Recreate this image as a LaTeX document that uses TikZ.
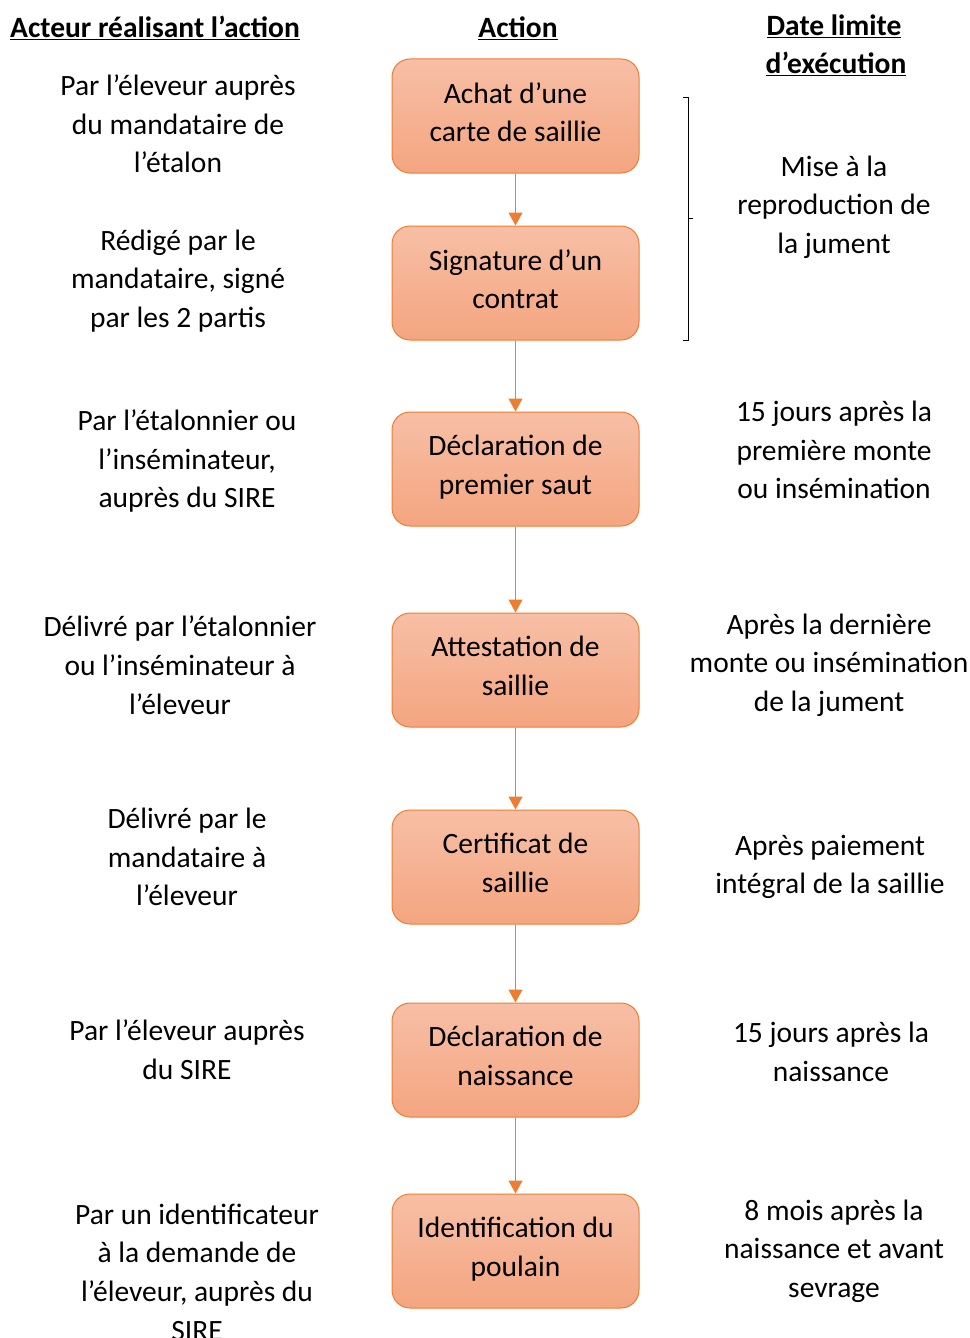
\documentclass[tikz,border=0pt]{standalone}
\usepackage{fontspec}
\setmainfont{Carlito}
\usetikzlibrary{arrows.meta}
\definecolor{boxtop}{RGB}{247,191,166}
\definecolor{boxbot}{RGB}{244,165,128}
\definecolor{boxline}{RGB}{237,125,49}
\tikzset{
  actbox/.style={draw=boxline, line width=1pt, rounded corners=18pt, top color=boxtop, bottom color=boxbot,
    minimum width=247pt, minimum height=114pt, align=center, inner sep=0pt, font=\fontsize{29.5}{38.7}\selectfont,
    execute at end node={\rule[-8pt]{0pt}{8pt}}},
  txt/.style={align=center, inner sep=0pt, font=\fontsize{29.5}{38.7}\selectfont},
  hdr/.style={align=center, inner sep=0pt, font=\fontsize{29.5}{38.7}\selectfont\bfseries},
  flow/.style={draw=boxline, line width=1.2pt, -{Triangle[width=14pt,length=13pt]}},
  brace/.style={draw=black, line width=0.8pt}
}
\begin{document}
\begin{tikzpicture}[x=1pt,y=-1pt]
\useasboundingbox (0,0) rectangle (969,1338);
% headers
\node[hdr] (h1) at (155,28) {\underline{Acteur réalisant l’action}};
\node[hdr] (h2) at (518,28) {\underline{Action}};
\node[hdr] (h3a) at (834,26) {\underline{Date limite}};
\node[hdr] (h3b) at (836,64) {\underline{d’exécution}};
% action boxes
\node[actbox] (b1) at (515.5,116) {Achat d’une\\carte de saillie};
\node[actbox] (b2) at (515.5,283) {Signature d’un\\contrat};
\node[actbox] (b3) at (515.5,469) {Déclaration de\\premier saut};
\node[actbox] (b4) at (515.5,670) {Attestation de\\saillie};
\node[actbox] (b5) at (515.5,867) {Certificat de\\saillie};
\node[actbox] (b6) at (515.5,1060) {Déclaration de\\naissance};
\node[actbox] (b7) at (515.5,1251) {Identification du\\poulain};
\draw[flow] (b1) -- (b2);
\draw[flow] (b2) -- (b3);
\draw[flow] (b3) -- (b4);
\draw[flow] (b4) -- (b5);
\draw[flow] (b5) -- (b6);
\draw[flow] (b6) -- (b7);
% actors
\node[txt] (a1) at (178,124) {Par l’éleveur auprès\\du mandataire de\\l’étalon};
\node[txt] (a2) at (178,281) {Rédigé par le\\mandataire, signé\\par les 2 partis};
\node[txt] (a3) at (187,461) {Par l’étalonnier ou\\l’inséminateur,\\auprès du SIRE};
\node[txt] (a4) at (180,665) {Délivré par l’étalonnier\\ou l’inséminateur à\\l’éleveur};
\node[txt] (a5) at (187,857) {Délivré par le\\mandataire à\\l’éleveur};
\node[txt] (a6) at (187,1050) {Par l’éleveur auprès\\du SIRE};
\node[txt] (a7) at (197,1272) {Par un identificateur\\à la demande de\\l’éleveur, auprès du\\SIRE};
% deadlines
\node[txt] (d1) at (834,207) {Mise à la\\reproduction de\\la jument};
\node[txt] (d2) at (834,450) {15 jours après la\\première monte\\ou insémination};
\node[txt] (d3) at (829,665) {Après la dernière\\monte ou insémination\\de la jument};
\node[txt] (d4) at (830,867) {Après paiement\\intégral de la saillie};
\node[txt] (d5) at (831,1052) {15 jours après la\\naissance};
\node[txt] (d6) at (834,1251) {8 mois après la\\naissance et avant\\sevrage};
% bracket
\coordinate (bt) at (683,97);
\coordinate (bb) at (683,340);
\draw[brace] (bt) -- ++(5,0) |- (bb);
\draw[brace] (688,218) -- ++(5,0);
\end{tikzpicture}
\end{document}
